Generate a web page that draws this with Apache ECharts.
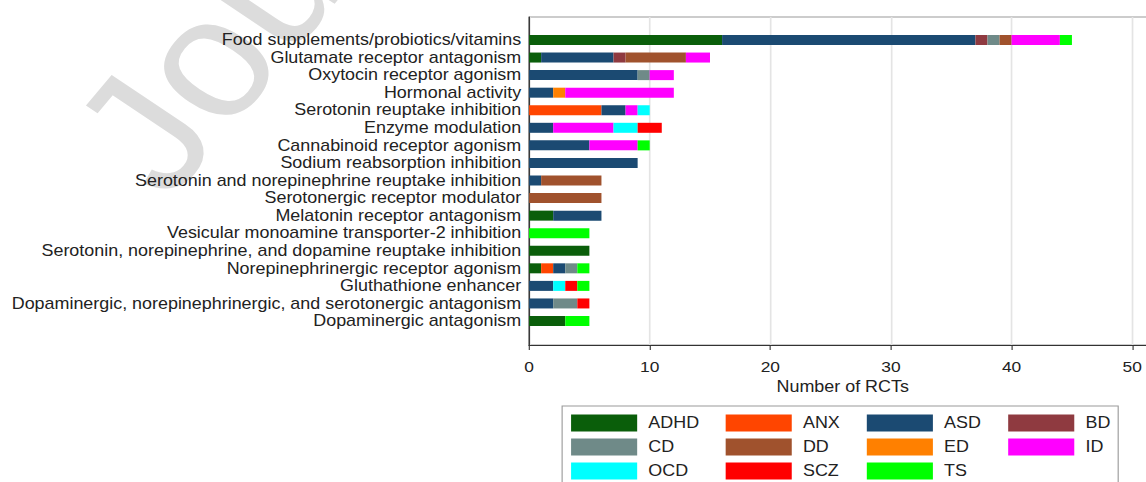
<!DOCTYPE html>
<html>
<head>
<meta charset="utf-8">
<script src="https://cdn.jsdelivr.net/npm/echarts@6/dist/echarts.min.js"></script>
<style>
  html, body { margin: 0; padding: 0; background: #fff; overflow: hidden; width: 1146px; height: 482px; }
  /* the chart is laid out on a narrower canvas and widened to give the wide lettering;
     the plot area runs on past the right edge of the window */
  #chart { width: 1040px; height: 482px; transform: scaleX(1.1202); transform-origin: 0 0; }
</style>
</head>
<body>
<div id="chart"></div>
<script>
// Mechanism-of-action categories (top to bottom)
const categories = [
  "Food supplements/probiotics/vitamins",
  "Glutamate receptor antagonism",
  "Oxytocin receptor agonism",
  "Hormonal activity",
  "Serotonin reuptake inhibition",
  "Enzyme modulation",
  "Cannabinoid receptor agonism",
  "Sodium reabsorption inhibition",
  "Serotonin and norepinephrine reuptake inhibition",
  "Serotonergic receptor modulator",
  "Melatonin receptor antagonism",
  "Vesicular monoamine transporter-2 inhibition",
  "Serotonin, norepinephrine, and dopamine reuptake inhibition",
  "Norepinephrinergic receptor agonism",
  "Gluthathione enhancer",
  "Dopaminergic, norepinephrinergic, and serotonergic antagonism",
  "Dopaminergic antagonism"
];

// Number of RCTs per disorder, one value per category above
const ADHD = [16, 1, 0, 0, 0, 0, 0, 0, 0, 0, 2, 0, 5, 1, 0, 0, 3];
const ANX  = [0, 0, 0, 0, 6, 0, 0, 0, 0, 0, 0, 0, 0, 1, 0, 0, 0];
const ASD  = [21, 6, 9, 2, 2, 2, 5, 9, 1, 0, 4, 0, 0, 1, 2, 2, 0];
const BD   = [1, 1, 0, 0, 0, 0, 0, 0, 0, 0, 0, 0, 0, 0, 0, 0, 0];
const CD   = [1, 0, 1, 0, 0, 0, 0, 0, 0, 0, 0, 0, 0, 1, 0, 2, 0];
const DD   = [1, 5, 0, 0, 0, 0, 0, 0, 5, 6, 0, 0, 0, 0, 0, 0, 0];
const ED   = [0, 0, 0, 1, 0, 0, 0, 0, 0, 0, 0, 0, 0, 0, 0, 0, 0];
const ID   = [4, 2, 2, 9, 1, 5, 4, 0, 0, 0, 0, 0, 0, 0, 0, 0, 0];
const OCD  = [0, 0, 0, 0, 1, 2, 0, 0, 0, 0, 0, 0, 0, 0, 1, 0, 0];
const SCZ  = [0, 0, 0, 0, 0, 2, 0, 0, 0, 0, 0, 0, 0, 0, 1, 1, 0];
const TS   = [1, 0, 0, 0, 0, 0, 1, 0, 0, 0, 0, 5, 0, 1, 1, 0, 2];

const disorders = ["ADHD", "ANX", "ASD", "BD", "CD", "DD", "ED", "ID", "OCD", "SCZ", "TS"];
const counts = { ADHD, ANX, ASD, BD, CD, DD, ED, ID, OCD, SCZ, TS };

// Styling
const colors = {
  ADHD: "#0a5e0a", ANX: "#ff4500", ASD: "#1b4a72", BD: "#8f3a40",
  CD: "#6f8a88", DD: "#a0522d", ED: "#ff8000", ID: "#ff00ff",
  OCD: "#00ffff", SCZ: "#ff0000", TS: "#00ff00"
};
const FONT = "'Liberation Sans', Arial, Helvetica, sans-serif";
const TEXT = "#222";

// legend is arranged column by column
const legendColumns = [["ADHD", "CD", "OCD"], ["ANX", "DD", "SCZ"], ["ASD", "ED", "TS"], ["BD", "ID"]];
const legendLefts = [509.8, 647.8, 773.8, 900];

const plotLeft = 472.3, plotRight = 7.7;

const chart = echarts.init(document.getElementById("chart"), null, { renderer: "svg" });

chart.setOption({
  animation: false,
  backgroundColor: "#fff",
  textStyle: { fontFamily: FONT },
  grid: [
    // frame, grid lines and value axis
    { left: plotLeft, right: plotRight, top: 17, bottom: 137, show: true, borderColor: "#9a9a9a", borderWidth: 1 },
    // bars
    { left: plotLeft, right: plotRight, top: 31.2, bottom: 152.2 }
  ],
  xAxis: [
    {
      gridIndex: 0, type: "value", min: 0, max: 52, interval: 10,
      axisLine: { show: true, lineStyle: { color: "#333", width: 1.2 } },
      axisTick: { show: true, length: 5, lineStyle: { color: "#333" } },
      axisLabel: { fontSize: 15.5, color: TEXT, margin: 13, showMaxLabel: false },
      splitLine: { show: true, lineStyle: { color: "#e4e4e4", width: 1.5 } },
      name: "Number of RCTs", nameLocation: "middle", nameGap: 30,
      nameTextStyle: { fontSize: 16, color: TEXT }
    },
    { gridIndex: 1, type: "value", min: 0, max: 52, show: false }
  ],
  yAxis: [
    {
      gridIndex: 0, type: "value", min: 0, max: 1,
      axisLine: { show: true, lineStyle: { color: "#333", width: 1.2 } },
      axisTick: { show: false }, axisLabel: { show: false }, splitLine: { show: false }
    },
    {
      gridIndex: 1, type: "category", data: categories, inverse: true,
      axisLine: { show: false }, axisTick: { show: false },
      axisLabel: { fontSize: 16, color: TEXT, margin: 7, interval: 0 }
    }
  ],
  legend: legendColumns.map((col, i) => ({
    data: col,
    orient: "vertical",
    left: legendLefts[i],
    top: 414.5,
    padding: 0,
    itemWidth: 59,
    itemHeight: 17,
    itemGap: 7,
    icon: "rect",
    selectedMode: false,
    itemStyle: { borderWidth: 0 },
    textStyle: { fontSize: 16, color: TEXT, lineHeight: 17, padding: [0, 0, 0, 5] }
  })),
  graphic: [
    {
      type: "text", x: 150, y: 203, rotation: 53.2 * Math.PI / 180, z: -10, silent: true,
      style: { text: "Journal Pre-proof", x: 0, y: -59, fontSize: 170, fontFamily: FONT,
               fill: "#dcdcdc", align: "left", verticalAlign: "middle" }
    },
    {
      type: "rect", silent: true, z: 1,
      shape: { x: 501.8, y: 406, width: 496.4, height: 90 },
      style: { fill: "none", stroke: "#9a9a9a", lineWidth: 1 }
    }
  ],
  series: disorders.map(name => ({
    name: name,
    type: "bar",
    stack: "total",
    xAxisIndex: 1,
    yAxisIndex: 1,
    barWidth: 10,
    data: counts[name],
    itemStyle: { color: colors[name] },
    emphasis: { disabled: true }
  }))
});
</script>
</body>
</html>
